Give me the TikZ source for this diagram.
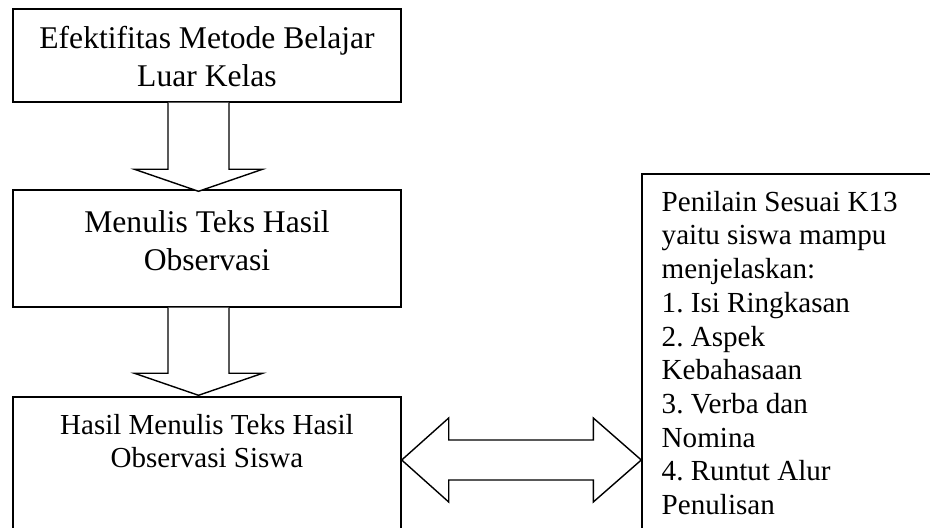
\documentclass[tikz,border=0pt]{standalone}
\usepackage{fontspec}
\setmainfont{Liberation Serif}
\usetikzlibrary{calc}
\frenchspacing
\def\bigtxt{\fontsize{15.8}{19}\selectfont}
\def\smalltxt{\fontsize{14.5}{16.7}\selectfont}
\def\downblock(#1)(#2){\draw[blockarrow] ($(#1)+(-30.5,0)$) -- ($(#2)+(-30.5,-22)$) -- ($(#2)+(-64,-22)$) -- (#2) -- ($(#2)+(64,-22)$) -- ($(#2)+(30.5,-22)$) -- ($(#1)+(30.5,0)$);}

\begin{document}
\begin{tikzpicture}[x=0.5pt, y=-0.5pt,
		box/.style={draw, line width=0.7pt, minimum width=194pt, inner sep=0},
		boxtext/.style={anchor=base, text width=190pt, align=flush center, inner sep=0},
		blockarrow/.style={draw, fill=white, line width=0.7pt, line join=miter}]
		%%%%% START %%%%%
		
		\useasboundingbox (0, 0) rectangle (930, 528);
		\clip (0, 0) rectangle (930, 528);
		
		\node[box, minimum height=46.5pt] (efek) at (207, 55.5) {};
		\node[box, minimum height=58.5pt] (menulis) at (207, 248.5) {};
		\node[box, minimum height=71.5pt] (hasil) at (207, 468.5) {};
		\node[box, minimum width=154pt, minimum height=193pt] (nilai) at (796, 367) {};
		
		\node[boxtext, font=\bigtxt] (efektxt) at ($(efek.north)+(0, 40)$) {Efektifitas Metode Belajar\\Luar Kelas};
		\node[boxtext, font=\bigtxt] (menulistxt) at ($(menulis.north)+(0, 43)$) {Menulis Teks Hasil\\Observasi};
		\node[boxtext, font=\smalltxt] (hasiltxt) at ($(hasil.north)+(0, 38)$) {Hasil Menulis Teks Hasil\\Observasi Siswa};
		\node[anchor=base west, text width=130pt, align=flush left, inner sep=0, font=\fontsize{14.55}{16.85}\selectfont] (nilaitxt) at ($(nilai.north west)+(20, 38)$)
			{Penilain Sesuai K13\\yaitu siswa mampu\\menjelaskan:\\1. Isi Ringkasan\\2. Aspek\\Kebahasaan\\3. Verba dan\\Nomina\\4. Runtut Alur\\Penulisan};
		
		\coordinate (a1) at ($(efek.south)+(-8.5, 0)$);
		\coordinate (t1) at ($(menulis.north)+(-8.5, 2)$);
		\downblock(a1)(t1)
		
		\coordinate (a2) at ($(menulis.south)+(-8.5, 0)$);
		\coordinate (t2) at ($(hasil.north)+(-8.5, -1)$);
		\downblock(a2)(t2)
		
		\coordinate (dl) at (hasil.east |- 0, 460);
		\coordinate (dr) at (nilai.west |- dl);
		\draw[blockarrow] (dl) -- ++(47, -42) -- ++(0, 22) -- ($(dr)+(-48, -20)$) -- ++(0, -22) -- (dr)
			-- ++(-48, 42) -- ++(0, -22) -- ($(dl)+(47, 20)$) -- ++(0, 22) -- cycle;
		
		%%%%% END %%%%%
	\end{tikzpicture}
\end{document}
